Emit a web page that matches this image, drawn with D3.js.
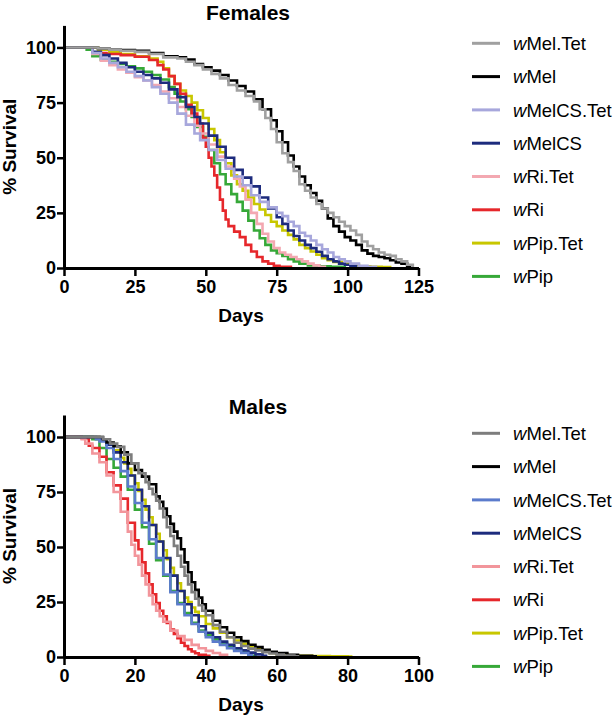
<!DOCTYPE html>
<html><head><meta charset="utf-8">
<script src="https://cdn.jsdelivr.net/npm/d3@7"></script>
<style>
body{margin:0;background:#fff;}
text{font-family:"Liberation Sans",Arial,Helvetica,sans-serif;}
</style>
</head><body>
<svg id="chart" width="615" height="718"></svg>
<script>
// ---------- DATA (day, % survival) ----------
const seriesNames = ["wMel.Tet","wMel","wMelCS.Tet","wMelCS","wRi.Tet","wRi","wPip.Tet","wPip"];
const femaleColors = ["#a0a0a0","#000000","#a7a7dc","#1d2b7d","#f3a8b1","#e6272b","#c8c700","#36a838"];
const maleColors   = ["#7d7d7d","#000000","#5b7bcc","#1d2b7d","#f2959b","#e6272b","#c8c700","#36a838"];
const femaleXTicks = [0,25,50,75,100,125];
const maleXTicks = [0,20,40,60,80,100];
const yTicks = [0,25,50,75,100];

// Females
const F_wMelTet = [[0,100],[8,100],[12,99.5],[16,99],[20,98.5],[25,98],[30,97],[35,95.5],[40,95],[43,93.5],[46,92],[49,90],[52,88],[55,86],[58,83],[61,80.5],[64,78],[67,75.5],[69,72],[71,68],[73,63],[75,57],[77,52],[79,48],[81,44],[83,38],[85,35],[87,32],[89,29],[91,27],[93,25],[95,23],[97,21],[99,19],[101,17],[103,15],[105,12],[107,10],[109,8.5],[111,7],[113,6],[115,5.5],[117,4],[119,3],[121,1.5],[123,0]];
const F_wMel = [[0,100],[8,100],[12,99.5],[16,99],[20,98.8],[25,98.5],[30,97.5],[35,96],[40,95.5],[43,94.5],[46,92.5],[49,91],[52,89.5],[55,87.5],[58,85],[61,82.5],[64,80],[67,76.5],[70,72],[73,67],[75,62],[77,57],[79,51],[81,46],[83,41.5],[85,37.5],[87,34],[89,30.5],[91,27],[93,22.5],[95,19],[97,16.5],[99,14],[101,12.5],[103,10.5],[105,8],[107,6.5],[109,5.5],[111,5],[113,4.4],[115,3.5],[117,2.5],[119,2],[121,1],[122,0]];
const F_wMelCSTet = [[0,100],[9,100],[10,97.5],[13,95],[16,93],[19,91],[22,89],[25,87],[28,85],[31,82],[34,79],[37,75],[40,70],[43,65],[46,61],[48,58],[51,53.5],[54,49],[57,45],[60,41.5],[63,37.5],[66,33],[69,30],[72,27.5],[75,25],[77,23.5],[79,21],[81,19],[83,16],[85,14.5],[87,12.5],[89,10.5],[91,8.5],[93,7],[95,5],[97,4],[99,3],[101,2],[104,1],[107,0.6],[110,0]];
const F_wMelCS = [[0,100],[9,100],[10,98],[13,96.5],[16,95],[19,93],[22,91],[25,89],[28,87.5],[31,86],[34,84],[37,81],[40,77.5],[43,73],[46,68.5],[48,65.5],[51,60],[54,55],[57,50],[60,44.5],[63,41],[66,37],[69,32],[72,27],[75,23],[77,20],[79,17],[81,14.5],[83,12.5],[85,10.5],[87,9],[89,7.4],[91,5.5],[93,4],[95,3],[97,2],[99,1.5],[101,1],[103,0]];
const F_wRiTet = [[0,100],[9,100],[10,97],[13,94],[16,92],[19,90],[22,88.5],[25,86.5],[28,85],[31,83],[34,80],[37,77],[40,73],[43,69],[46,64.5],[48,61],[51,56],[54,50.5],[57,46],[60,40.5],[62,37],[64,31],[66,25],[68,20],[70,15.5],[72,12],[74,9],[76,7],[78,6],[80,5],[82,4],[84,3],[86,2],[88,1.2],[90,0.6],[92,0]];
const F_wRi = [[0,100],[7,100],[10,97.5],[15,97],[20,96.5],[25,95.8],[30,94.3],[33,92],[35,90],[37,87],[39,83.5],[41,79],[43,74],[45,70],[47,65.5],[49,59],[50,55],[51,50],[52,46],[53,42],[54,36.5],[55,31],[56,26],[57,22],[58,19],[60,16.5],[62,14],[64,10.5],[66,7.5],[68,5],[70,3],[72,2],[74,1],[76,0.5],[80,0]];
const F_wPipTet = [[0,100],[10,100],[12,99],[16,98],[20,97],[25,96],[30,95],[33,93.5],[35,90.5],[37,87],[39,83.5],[41,80.5],[43,78],[45,75],[47,71.5],[49,68],[51,63],[53,58],[55,52.5],[57,47.5],[59,42],[61,38],[63,35],[65,32],[67,29],[69,26.5],[71,24],[73,21],[75,19],[77,17],[79,15],[81,13],[83,10.5],[85,9],[87,7.5],[89,6],[91,4.5],[93,3.5],[95,2.8],[98,2],[101,1.4],[104,0.8],[108,0.5],[112,0.4],[115,0]];
const F_wPip = [[0,100],[6,100],[8,99],[10,96],[13,94.5],[16,93.5],[19,92.5],[22,91.5],[25,90.5],[28,89],[31,87.5],[34,85.5],[37,82],[39,79],[41,75.5],[43,72],[45,68.5],[47,64],[49,59.5],[51,53.5],[53,47.5],[55,42.5],[57,38],[59,33.5],[61,30],[63,26],[65,21.5],[67,17],[69,13.5],[71,10.5],[73,8],[75,6.7],[77,5.5],[79,4],[81,3],[83,2],[86,1.2],[90,0.8],[94,0.5],[98,0.3],[99,0]];

// Males
const M_wMelTet = [[0,100],[9,100],[11,99],[13,97],[15,95.5],[17,92],[19,88],[21,83.5],[23,79.5],[24,76.5],[25,74],[26,71],[27,67.5],[28,63.5],[29,59],[30,55],[31,50.5],[32,46],[33,41],[34,37],[35,33],[36,29.5],[37,26.5],[38,23.5],[39,21],[40,19],[42,14.5],[44,11.5],[46,9],[48,6.5],[50,5],[52,3.8],[54,3],[56,2.2],[58,1.6],[60,1.1],[62,0.7],[65,0.3],[66,0]];
const M_wMel = [[0,100],[10,100],[11,99],[12,97.5],[14,95.8],[16,93],[18,88],[20,85],[22,82],[24,78.5],[26,73],[27,70.5],[28,67.5],[29,64],[30,60.5],[31,57],[32,54],[33,49],[34,43],[35,38.5],[36,34],[37,30.5],[38,27],[39,24],[40,21],[42,16.5],[44,13.5],[46,11],[48,9],[50,7.2],[52,5.6],[54,4.5],[56,3.3],[58,2.4],[60,1.8],[63,1],[66,0.6],[70,0.3],[71,0]];
const M_wMelCSTet = [[0,100],[8,100],[9,99],[10,98],[12,95],[14,90],[16,84.5],[18,77.5],[20,70],[22,61],[24,53.5],[26,45],[28,37.5],[30,29.5],[32,24],[34,19],[36,15],[38,11.5],[40,9],[42,7],[44,5.5],[46,4],[48,2.8],[50,1.8],[52,0.8],[53,0]];
const M_wMelCS = [[0,100],[9,100],[10,99],[12,96.5],[14,93],[16,88.5],[18,82.5],[20,76],[22,68.5],[24,60],[26,52.5],[28,45],[30,37],[32,30],[34,24],[36,19],[38,14],[40,11],[42,9],[44,7],[46,5.5],[48,4],[50,3],[52,2],[54,1.2],[56,0.5],[57,0]];
const M_wRiTet = [[0,100],[4,100],[5,99],[6,97],[8,92.5],[10,88.5],[12,82.5],[14,75],[16,66],[18,57],[19,51],[20,46],[21,42],[22,37],[23,33],[24,28],[25,24],[26,21],[27,18.5],[28,16],[30,12],[32,9.5],[34,7.8],[36,5.5],[38,4],[40,2.8],[42,1.8],[44,1],[46,0]];
const M_wRi = [[0,100],[4,100],[5,99.4],[7,96],[8,95],[10,91],[12,84],[14,78],[16,72],[18,61],[20,53],[21,49],[22,43],[23,38],[24,33],[25,28.5],[26,24.5],[27,21],[28,18.5],[29,15.5],[30,12.5],[31,10.5],[32,8.5],[33,6.5],[34,5],[35,3.5],[36,2.5],[37,1.7],[38,1],[40,0.5],[41,0]];
const M_wPipTet = [[0,100],[8,100],[10,98.5],[12,96.5],[14,94],[16,90.5],[17,88],[18,85.5],[19,82.5],[20,79],[21,75.5],[22,71.5],[23,67],[24,63.5],[25,60],[26,56],[27,52.5],[28,48.5],[29,44.5],[30,40.5],[31,37],[32,33.5],[33,30],[34,27],[35,25],[36,22.5],[37,20.5],[38,18.5],[40,15],[42,13],[44,11],[46,9],[48,7.5],[50,6],[52,4.8],[54,3.5],[56,2.5],[58,1.8],[60,1.2],[63,0.8],[66,0.5],[70,0.4],[75,0.3],[80,0.2],[81,0]];
const M_wPip = [[0,100],[7,100],[8,99],[10,95],[12,90],[14,86],[16,82],[18,76],[20,67],[22,59],[24,51.5],[26,44],[28,37],[30,30],[32,24.5],[34,20],[36,15.5],[38,12],[40,10],[42,8],[44,6.5],[46,5],[48,3.5],[50,2.3],[52,1.2],[53,0.5],[54,0]];

const femaleSeries = [F_wMelTet,F_wMel,F_wMelCSTet,F_wMelCS,F_wRiTet,F_wRi,F_wPipTet,F_wPip];
const maleSeries = [M_wMelTet,M_wMel,M_wMelCSTet,M_wMelCS,M_wRiTet,M_wRi,M_wPipTet,M_wPip];

// ---------- DRAW ----------
const svg = d3.select("#chart");

function panel(cfg){
  const g = svg.append("g");
  const x = d3.scaleLinear().domain([0, cfg.xMax]).range([64, 418.5]);
  const y = d3.scaleLinear().domain([0, 110]).range([cfg.bottom, cfg.top]);

  const line = d3.line().x(d => x(d[0])).y(d => y(d[1])).curve(d3.curveStepAfter);
  // draw later series first so earlier ones sit on top
  for (let i = cfg.series.length - 1; i >= 0; i--) {
    g.append("path").datum(cfg.series[i])
      .attr("d", line)
      .attr("fill","none")
      .attr("stroke", cfg.colors[i])
      .attr("stroke-width", 2.6)
      .attr("stroke-linejoin","miter");
  }

  const ya = g.append("g").attr("transform","translate(64,0)")
    .call(d3.axisLeft(y).tickValues(yTicks).tickSize(7).tickSizeOuter(0).tickPadding(1));
  const xa = g.append("g").attr("transform",`translate(0,${cfg.bottom})`)
    .call(d3.axisBottom(x).tickValues(cfg.xTicks).tickSize(8).tickSizeOuter(0).tickPadding(4));
  [ya, xa].forEach(a => {
    a.select(".domain").attr("stroke","#000").attr("stroke-width",3);
    a.selectAll(".tick line").attr("stroke","#000").attr("stroke-width",2.5);
    a.selectAll(".tick text").attr("fill","#000")
      .style("font-family",'"Liberation Sans",Arial,sans-serif')
      .style("font-size","18px").style("font-weight","bold");
  });

  g.append("text").attr("x", cfg.titleX).attr("y", cfg.titleY)
    .attr("text-anchor","middle").style("font-size","21px").style("font-weight","bold")
    .text(cfg.title);
  g.append("text").attr("x", 241).attr("y", cfg.bottom + 54)
    .attr("text-anchor","middle").style("font-size","19px").style("font-weight","bold")
    .text("Days");
  g.append("text")
    .attr("transform",`translate(16,${(cfg.bottom + cfg.top)/2}) rotate(-90)`)
    .attr("text-anchor","middle").style("font-size","19px").style("font-weight","bold")
    .text("% Survival");

  // legend
  seriesNames.forEach((name, i) => {
    const ly = cfg.legendTop + i * 33.3;
    g.append("line").attr("x1",472).attr("x2",500).attr("y1",ly).attr("y2",ly)
      .attr("stroke", cfg.colors[i]).attr("stroke-width",3);
    const t = g.append("text").attr("x",513).attr("y",ly).attr("dy","0.36em")
      .style("font-size","18.5px");
    t.append("tspan").style("font-style","italic").text(name[0]);
    t.append("tspan").text(name.slice(1));
  });
}

panel({series: femaleSeries, colors: femaleColors, xMax:125, xTicks: femaleXTicks,
       bottom:268, top:25.4, title:"Females", titleX:248, titleY:20, legendTop:43.3});
panel({series: maleSeries, colors: maleColors, xMax:100, xTicks: maleXTicks,
       bottom:657, top:415, title:"Males", titleX:258, titleY:414, legendTop:433.3});
</script>
</body></html>
